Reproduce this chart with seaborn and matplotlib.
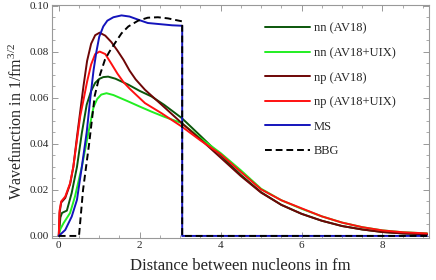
import numpy as np
import pandas as pd
import matplotlib
matplotlib.use("Agg")
import matplotlib.pyplot as plt
import seaborn as sns
from matplotlib.ticker import MultipleLocator

# --- Data ---
r_nn = [0, 0.04, 0.08, 0.2, 0.32, 0.45, 0.57, 0.69, 0.8, 0.9, 1.0, 1.1, 1.22, 1.4,
        1.72, 2.0, 2.29, 2.6, 3.04, 3.5, 4.0, 4.5, 5.0, 5.5, 6.0, 6.5, 7.0, 7.5,
        8.0, 8.5, 9.1]
nn_av18 = [0, 0.008, 0.010, 0.011, 0.0187, 0.030, 0.0447, 0.057, 0.063, 0.0665,
           0.0682, 0.069, 0.0692, 0.0683, 0.0657, 0.063, 0.0606, 0.057, 0.0512,
           0.0435, 0.035, 0.0265, 0.019, 0.0135, 0.0096, 0.0066, 0.0043, 0.0028,
           0.0017, 0.0011, 0.0007]

r_nn_uix = [0, 0.04, 0.12, 0.28, 0.40, 0.57, 0.73, 0.86, 0.95, 1.05, 1.18, 1.35,
            1.72, 2.0, 2.29, 2.6, 3.04, 3.5, 4.0, 4.5, 5.0, 5.5, 6.0, 6.5, 7.0,
            7.5, 8.0, 8.5, 9.1]
nn_uix = [0, 0.003, 0.0056, 0.010, 0.0171, 0.030, 0.0446, 0.056, 0.0595, 0.0614,
          0.062, 0.0612, 0.0584, 0.0562, 0.054, 0.0518, 0.049, 0.0425, 0.036,
          0.0285, 0.0205, 0.0155, 0.0118, 0.0085, 0.0058, 0.0038, 0.0024,
          0.0016, 0.0011]

r_np = [0, 0.02, 0.06, 0.16, 0.28, 0.36, 0.45, 0.53, 0.61, 0.7, 0.8, 0.9, 1.01,
        1.15, 1.3, 1.45, 1.6, 1.75, 1.9, 2.13, 2.54, 3.04, 3.5, 4.0, 4.5, 5.0,
        5.5, 6.0, 6.5, 7.0, 7.5, 8.0, 8.5, 9.1]
np_av18 = [0, 0.010, 0.0145, 0.0165, 0.0225, 0.030, 0.043, 0.054, 0.065, 0.076,
           0.0835, 0.0872, 0.0883, 0.087, 0.0842, 0.0805, 0.0765, 0.0718, 0.068,
           0.0635, 0.057, 0.049, 0.042, 0.034, 0.026, 0.0188, 0.0135, 0.0096,
           0.0066, 0.0043, 0.0028, 0.0017, 0.0011, 0.0007]
np_uix = [0, 0.011, 0.015, 0.0171, 0.0229, 0.030, 0.0417, 0.052, 0.059, 0.067,
          0.0745, 0.079, 0.0801, 0.079, 0.0748, 0.0705, 0.0668, 0.064, 0.0615,
          0.0577, 0.0533, 0.0475, 0.0415, 0.0355, 0.0278, 0.0202, 0.0155, 0.012,
          0.0085, 0.0058, 0.0038, 0.0024, 0.0016, 0.0011]

r_ms = [0, 0.16, 0.32, 0.45, 0.57, 0.69, 0.78, 0.86, 0.93, 1.0, 1.1, 1.2, 1.35,
        1.55, 1.75, 2.0, 2.2, 2.5, 2.8, 3.05, 3.05, 9.1]
ms = [0, 0.0026, 0.0084, 0.0157, 0.030, 0.045, 0.060, 0.072, 0.080, 0.0865,
      0.091, 0.0935, 0.095, 0.0958, 0.0953, 0.0937, 0.0925, 0.092, 0.0915,
      0.0913, 0, 0]

r_bbg = [0, 0.5, 0.6, 0.75, 0.89, 1.0, 1.14, 1.25, 1.39, 1.55, 1.72, 1.96, 2.2,
         2.45, 2.7, 3.05, 3.05, 9.1]
bbg = [0, 0, 0.02, 0.04, 0.061, 0.069, 0.0765, 0.080, 0.0838, 0.088, 0.091,
       0.0935, 0.0948, 0.095, 0.0945, 0.0932, 0, 0]

labels = ["nn (AV18)", "nn (AV18+UIX)", "np (AV18)", "np (AV18+UIX)", "MS", "BBG"]
colors = ["#0a560a", "#22ee22", "#6e0606", "#ff1010", "#1414bc", "#000000"]

# --- Style ---
sns.set_theme(style="ticks")
plt.rcParams["font.family"] = ["Liberation Serif", "DejaVu Serif"]
plt.rcParams["mathtext.fontset"] = "custom"
plt.rcParams["mathtext.rm"] = "Liberation Serif"
plt.rcParams["mathtext.it"] = "Liberation Serif:italic"

fig = plt.figure(figsize=(4.36, 2.80), dpi=100)
ax = fig.add_axes([0.119, 0.15, 0.865, 0.832])

series = [(r_nn, nn_av18), (r_nn_uix, nn_uix), (r_np, np_av18),
          (r_np, np_uix), (r_ms, ms), (r_bbg, bbg)]
for (r, v), lab, col in zip(series, labels, colors):
    df = pd.DataFrame({"r": r, "psi": v})
    ls = "--" if lab == "BBG" else "-"
    sns.lineplot(data=df, x="r", y="psi", sort=False, estimator=None,
                 color=col, linewidth=1.4, linestyle=ls, label=lab, ax=ax)
    if lab == "BBG":
        ax.lines[-1].set_dashes((3.5, 2))

ax.set_xlim(-0.17, 9.15)
ax.set_ylim(-0.0009, 0.1003)
ax.xaxis.set_major_locator(MultipleLocator(2))
ax.xaxis.set_minor_locator(MultipleLocator(0.5))
ax.yaxis.set_major_locator(MultipleLocator(0.02))
ax.yaxis.set_minor_locator(MultipleLocator(0.005))
ax.yaxis.set_major_formatter(plt.FuncFormatter(lambda v, p: f"{v:.2f}"))
ax.tick_params(which="both", direction="in", top=True, right=True,
               color="#888888", labelsize=8, pad=2)
ax.tick_params(which="major", length=4, width=0.6)
ax.tick_params(which="minor", length=2, width=0.5)
for s in ax.spines.values():
    s.set_color("#999999")
    s.set_linewidth(0.8)

ax.set_xlabel("Distance between nucleons in fm", fontsize=12, labelpad=6)
ax.set_ylabel("Wavefunction in 1/fm$^{3/2}$", fontsize=11.5, labelpad=3)

leg = ax.legend(loc="upper left", bbox_to_anchor=(0.565, 0.925), frameon=False,
                fontsize=9, handlelength=3.6, handletextpad=0.3,
                labelspacing=1.0, borderpad=0, borderaxespad=0)
for h in leg.get_lines():
    h.set_linewidth(1.4)

fig.savefig("out.png", dpi=100)
